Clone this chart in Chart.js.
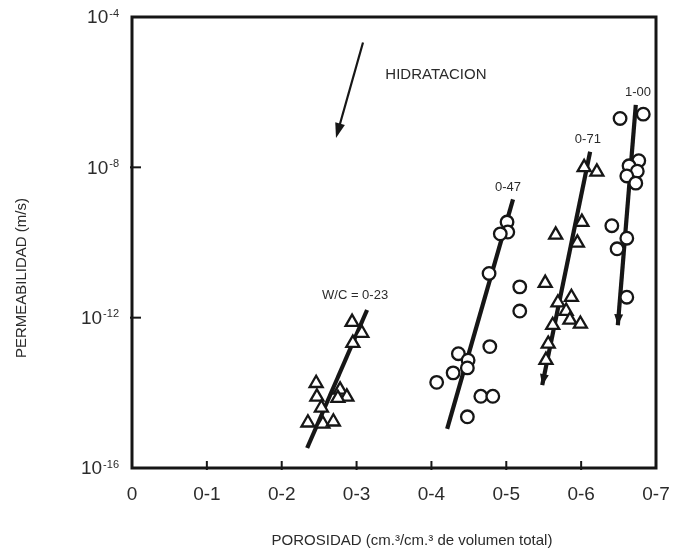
<!DOCTYPE html>
<html>
<head>
<meta charset="utf-8">
<script src="https://cdn.jsdelivr.net/npm/chart.js@4.4.1/dist/chart.umd.min.js"></script>
<style>
  html, body { margin: 0; padding: 0; background: #fff; }
  #wrap { width: 679px; height: 556px; }
</style>
</head>
<body>
<div id="wrap"><canvas id="chart" width="679" height="556"></canvas></div>
<script>
// Porosidad (cm3/cm3) y permeabilidad (m/s)
const wc023X = [0.294, 0.307, 0.295, 0.246, 0.247, 0.278, 0.287, 0.275, 0.253, 0.235, 0.255, 0.269];
const wc023Y = [7.6e-13, 3.9e-13, 2.1e-13, 1.8e-14, 7.8e-15, 1.2e-14, 7.8e-15, 7.2e-15, 4.0e-15, 1.6e-15, 1.5e-15, 1.7e-15];

const wc047X = [0.501, 0.502, 0.492, 0.477, 0.518, 0.518, 0.478, 0.436, 0.449, 0.448, 0.429, 0.407, 0.466, 0.482, 0.448];
const wc047Y = [3.5e-10, 1.9e-10, 1.7e-10, 1.5e-11, 6.6e-12, 1.5e-12, 1.7e-13, 1.1e-13, 7.4e-14, 4.6e-14, 3.4e-14, 1.9e-14, 8.1e-15, 8.1e-15, 2.3e-15];

const wc071X = [0.604, 0.621, 0.601, 0.566, 0.595, 0.552, 0.587, 0.569, 0.580, 0.585, 0.599, 0.562, 0.556, 0.553];
const wc071Y = [1.0e-8, 7.6e-9, 3.5e-10, 1.6e-10, 9.8e-11, 8.3e-12, 3.5e-12, 2.5e-12, 1.5e-12, 8.7e-13, 6.8e-13, 6.3e-13, 2.0e-13, 7.4e-14];

const wc100X = [0.652, 0.683, 0.677, 0.664, 0.675, 0.661, 0.673, 0.641, 0.661, 0.648, 0.661];
const wc100Y = [2.0e-7, 2.6e-7, 1.5e-8, 1.1e-8, 7.9e-9, 5.9e-9, 3.8e-9, 2.8e-10, 1.3e-10, 6.8e-11, 3.5e-12];

// rectas de ajuste (extremo inferior, extremo superior)
const fit023X = [0.234, 0.314];
const fit023Y = [3.4e-16, 1.6e-12];
const fit047X = [0.421, 0.509];
const fit047Y = [1.1e-15, 1.4e-9];
const fit071X = [0.548, 0.612];
const fit071Y = [1.6e-14, 2.6e-8];
const fit100X = [0.649, 0.673];
const fit100Y = [6.3e-13, 4.6e-7];

// flecha de hidratacion (punta, origen)
const hydX = [0.2725, 0.3086];
const hydY = [6.0e-8, 2.1e-5];

// textos
const noteText = ['W/C = 0-23', '0-47', '0-71', '1-00', 'HIDRATACION'];
const noteX = [0.298, 0.5023, 0.609, 0.676, 0.406];
const noteY = [3.8e-12, 3.0e-9, 5.4e-8, 1.0e-6, 2.9e-6];

const xTickLabels = ['0', '0-1', '0-2', '0-3', '0-4', '0-5', '0-6', '0-7'];
const yTickValues = [1e-16, 1e-12, 1e-8, 1e-4];
const yTickExp = ['-16', '-12', '-8', '-4'];

const xTitle = 'POROSIDAD (cm.³/cm.³ de volumen total)';
const yTitle = 'PERMEABILIDAD (m/s)';

const INK = '#161616';
const TEXT = '#2b2b2b';
const FONT = '"Liberation Sans", Arial, Helvetica, sans-serif';
Chart.defaults.font.family = FONT;

const toPts = (xs, ys) => xs.map((x, i) => ({ x: x, y: ys[i] }));

function pointSet(xs, ys, style) {
    return {
        data: toPts(xs, ys),
        showLine: false,
        pointStyle: style,
        pointRadius: style === 'triangle' ? 7.5 : 6.3,
        pointBorderWidth: 2.3,
        pointBorderColor: INK,
        pointBackgroundColor: '#fff',
        order: 1
    };
}

function lineSet(xs, ys, arrow) {
    return {
        data: toPts(xs, ys),
        showLine: true,
        borderColor: INK,
        borderWidth: 4.2,
        pointRadius: 0,
        arrowHead: arrow,
        order: 2
    };
}

function drawHead(ctx, from, to, len, half) {
    const ang = Math.atan2(to.y - from.y, to.x - from.x);
    ctx.save();
    ctx.translate(to.x, to.y);
    ctx.rotate(ang);
    ctx.beginPath();
    ctx.moveTo(0, 0);
    ctx.lineTo(-len, -half);
    ctx.lineTo(-len, half);
    ctx.closePath();
    ctx.fillStyle = INK;
    ctx.fill();
    ctx.restore();
}

const decor = {
    id: 'decor',
    afterDatasetsDraw(chart) {
        const ctx = chart.ctx;
        const xs = chart.scales.x, ys = chart.scales.y;
        // puntas de flecha en las rectas
        chart.data.datasets.forEach((ds, i) => {
            if (!ds.arrowHead) return;
            const pts = chart.getDatasetMeta(i).data;
            drawHead(ctx, pts[1], pts[0], 11, 4.5);
        });
        // flecha de hidratacion
        const a0 = { x: xs.getPixelForValue(hydX[1]), y: ys.getPixelForValue(hydY[1]) };
        const a1 = { x: xs.getPixelForValue(hydX[0]), y: ys.getPixelForValue(hydY[0]) };
        ctx.save();
        ctx.strokeStyle = INK;
        ctx.lineWidth = 2.2;
        ctx.beginPath();
        ctx.moveTo(a0.x, a0.y);
        const back = Math.hypot(a1.x - a0.x, a1.y - a0.y);
        const k = (back - 12) / back;
        ctx.lineTo(a0.x + (a1.x - a0.x) * k, a0.y + (a1.y - a0.y) * k);
        ctx.stroke();
        ctx.restore();
        drawHead(ctx, a0, a1, 15, 5);
    },
    afterDraw(chart) {
        const ctx = chart.ctx;
        const area = chart.chartArea;
        const xs = chart.scales.x, ys = chart.scales.y;
        ctx.save();
        // marco
        ctx.strokeStyle = INK;
        ctx.lineWidth = 3;
        ctx.strokeRect(area.left, area.top, area.right - area.left, area.bottom - area.top);
        // marcas interiores
        ctx.lineWidth = 2;
        xs.ticks.forEach(t => {
            if (t.value <= 0.001 || t.value >= 0.699) return;
            const px = xs.getPixelForValue(t.value);
            ctx.beginPath();
            ctx.moveTo(px, area.bottom + 2);
            ctx.lineTo(px, area.bottom - 7);
            ctx.stroke();
        });
        yTickValues.forEach(v => {
            if (v === 1e-16 || v === 1e-4) return;
            const py = ys.getPixelForValue(v);
            ctx.beginPath();
            ctx.moveTo(area.left - 2, py);
            ctx.lineTo(area.left + 9, py);
            ctx.stroke();
        });
        // etiquetas del eje y: 10 con exponente
        ctx.fillStyle = TEXT;
        yTickValues.forEach((v, i) => {
            const py = ys.getPixelForValue(v);
            ctx.font = '11px ' + FONT;
            const ew = ctx.measureText(yTickExp[i]).width;
            ctx.textBaseline = 'top';
            ctx.textAlign = 'right';
            ctx.fillText(yTickExp[i], area.left - 13, py - 9);
            ctx.font = '19px ' + FONT;
            ctx.textBaseline = 'middle';
            ctx.fillText('10', area.left - 14 - ew, py + 1);
        });
        // titulos
        ctx.font = '15px ' + FONT;
        ctx.textAlign = 'center';
        ctx.textBaseline = 'middle';
        ctx.fillText(xTitle, 412, 541);
        ctx.save();
        ctx.translate(22, 278);
        ctx.rotate(-Math.PI / 2);
        ctx.fillText(yTitle, 0, 0);
        ctx.restore();
        // notas
        noteText.forEach((t, i) => {
            ctx.font = (i === 4 ? '15px ' : '13px ') + FONT;
            ctx.fillText(t, xs.getPixelForValue(noteX[i]), ys.getPixelForValue(noteY[i]));
        });
        ctx.restore();
    }
};

new Chart(document.getElementById('chart'), {
    type: 'scatter',
    data: {
        datasets: [
            lineSet(fit023X, fit023Y, false),
            lineSet(fit047X, fit047Y, false),
            lineSet(fit071X, fit071Y, true),
            lineSet(fit100X, fit100Y, true),
            pointSet(wc023X, wc023Y, 'triangle'),
            pointSet(wc047X, wc047Y, 'circle'),
            pointSet(wc071X, wc071Y, 'triangle'),
            pointSet(wc100X, wc100Y, 'circle')
        ]
    },
    options: {
        responsive: false,
        animation: false,
        devicePixelRatio: 1,
        layout: { padding: { top: 17, right: 23, left: 0, bottom: 0 } },
        plugins: { legend: { display: false }, tooltip: { enabled: false } },
        scales: {
            x: {
                type: 'linear',
                min: 0,
                max: 0.7,
                grid: { display: false, drawTicks: false },
                border: { display: false },
                ticks: {
                    stepSize: 0.1,
                    padding: 15,
                    color: TEXT,
                    font: { size: 19 },
                    maxRotation: 0,
                    callback: v => xTickLabels[Math.round(v * 10)]
                },
                afterFit: s => { s.height = 88; s.paddingLeft = 0; s.paddingRight = 0; }
            },
            y: {
                type: 'logarithmic',
                min: 1e-16,
                max: 1e-4,
                grid: { display: false, drawTicks: false },
                border: { display: false },
                ticks: { display: false },
                afterBuildTicks: s => { s.ticks = yTickValues.map(v => ({ value: v })); },
                afterFit: s => { s.width = 132; }
            }
        }
    },
    plugins: [decor]
});
</script>
</body>
</html>
